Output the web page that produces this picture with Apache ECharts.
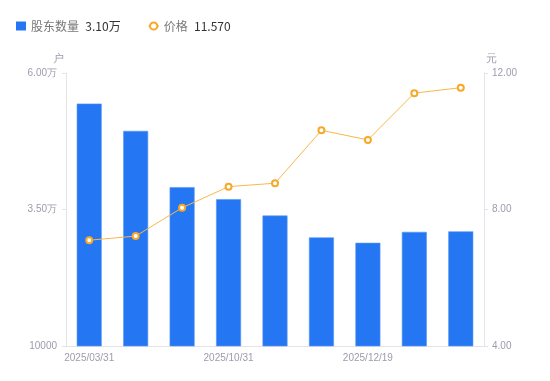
<!DOCTYPE html>
<html><head><meta charset="utf-8">
<script src="https://cdn.jsdelivr.net/npm/echarts@6/dist/echarts.min.js"></script>
<style>html,body{margin:0;padding:0;background:#fff}#c{width:550px;height:381px}</style>
</head><body><div id="c"></div>
<script>
const categories = ['2025/03/31','2025/06/30','2025/09/30','2025/10/31','2025/11/20','2025/11/30','2025/12/19','2025/12/31','2026/01/20'];
const holders = [54400, 49400, 39100, 36900, 33900, 29900, 28900, 30900, 31000];
const prices = [7.10, 7.22, 8.05, 8.67, 8.77, 10.32, 10.04, 11.41, 11.57];
const leftTicks = {min: 10000, max: 60000, interval: 25000};
const rightTicks = {min: 4, max: 12, interval: 4};

const labelColor = '#9c9cad';
const lineColor = '#e3e3e8';
function fmtHolder(v){ return v > 10000 ? (v/10000).toFixed(2) + '万' : String(v); }
const lastHolder = holders[holders.length-1];
const lastPrice = prices[prices.length-1];

const chart = echarts.init(document.getElementById('c'));
chart.setOption({
  animation: false,
  legend: {
    left: 11, top: 15,
    itemWidth: 10, itemHeight: 9, itemGap: 27,
    itemStyle: {borderWidth: 0},
    textStyle: {fontSize: 12, rich: {
      n: {color: '#777', fontSize: 12, fontFamily: 'Noto Sans CJK SC'},
      v: {color: '#333', fontSize: 12, fontFamily: 'Noto Sans CJK SC', padding:[0,0,0,3]}
    }},
    formatter: function(name){
      return name === '股东数量' ? '{n|股东数量} {v|' + fmtHolder(lastHolder) + '}' : '{n|价格} {v|' + lastPrice.toFixed(3) + '}';
    },
    data: [{name:'股东数量', icon:'rect', itemStyle:{borderWidth:0}}, {name:'价格', itemStyle:{borderWidth:2}}]
  },
  grid: {left: 66, right: 66, top: 73, bottom: 35},
  xAxis: {
    type: 'category', data: categories,
    axisLine: {lineStyle: {color: lineColor}},
    axisTick: {show: false},
    axisLabel: {color: labelColor, fontSize: 10, interval: 2, margin: 7}
  },
  yAxis: [{
    type: 'value', name: '户', min: leftTicks.min, max: leftTicks.max, interval: leftTicks.interval,
    nameGap: 9, nameTextStyle: {color: labelColor, fontSize: 11, align: 'right', padding:[0,2,0,0]},
    axisLine: {show: true, lineStyle: {color: lineColor}},
    axisTick: {show: true, length: 4, lineStyle: {color: lineColor}},
    splitLine: {show: false},
    axisLabel: {color: labelColor, fontSize: 10, margin: 9, formatter: fmtHolder}
  }, {
    type: 'value', name: '元', min: rightTicks.min, max: rightTicks.max, interval: rightTicks.interval,
    nameGap: 9, nameTextStyle: {color: labelColor, fontSize: 11, align: 'left', padding:[0,0,0,2]},
    axisLine: {show: true, lineStyle: {color: lineColor}},
    axisTick: {show: true, length: 4, lineStyle: {color: lineColor}},
    splitLine: {show: false},
    axisLabel: {color: labelColor, fontSize: 10, margin: 8, formatter: v => v.toFixed(2)}
  }],
  series: [{
    name: '股东数量', type: 'bar', yAxisIndex: 0, data: holders,
    barWidth: 25,
    itemStyle: {color: '#2476f2', borderColor: '#5b98f5', borderWidth: 0.6}
  }, {
    name: '价格', type: 'line', yAxisIndex: 1, data: prices,
    symbol: 'emptyCircle', symbolSize: 6,
    lineStyle: {color: '#f8b74a', width: 1},
    itemStyle: {color: '#f7a829', borderWidth: 2}
  }]
});
</script></body></html>
